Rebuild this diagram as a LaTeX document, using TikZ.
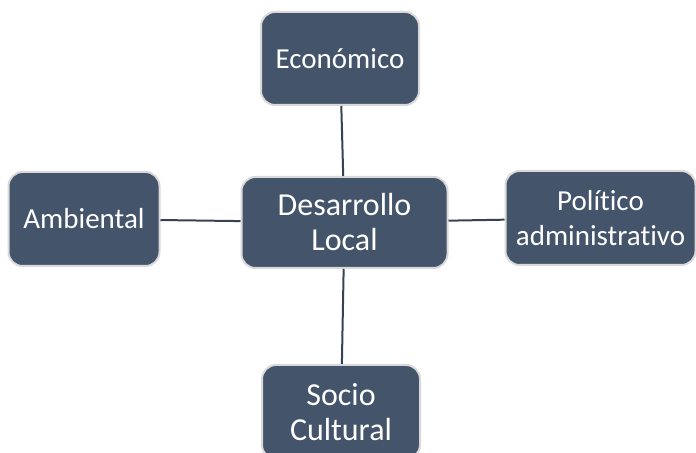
\documentclass[tikz,border=0pt]{standalone}
\usepackage{fontspec}
\setmainfont[RawFeature={-liga;-clig;-calt;-rlig}]{Carlito}

\definecolor{slate}{HTML}{44546A}
\definecolor{rim}{HTML}{D9D9D9}

\begin{document}
\begin{tikzpicture}[x=0.5pt, y=-0.5pt, area/.style={draw=rim, line width=1pt, fill=slate, rounded corners=7pt, text=white, align=center, font=\fontsize{14.5}{17.5}\selectfont}, big/.style={font=\fontsize{16}{17.5}\selectfont}, ]

\useasboundingbox (0,0) rectangle (696,453);

\node (eco) [area, minimum width=79pt, minimum height=46.5pt] at (340, 58.5) {Económico};
\node (amb) [area, minimum width=75.5pt, minimum height=47pt] at (84, 219) {Ambiental};
\node (des) [area, big, minimum width=103pt, minimum height=45.5pt] at (344.5, 222.5) {Desarrollo\\Local};
\node (pol) [area, minimum width=95pt, minimum height=47pt] at (600.5, 218) {Político\\administrativo};
\node (soc) [area, big, minimum width=79pt, minimum height=47pt] at (341, 412) {Socio\\Cultural};

\foreach \n in {eco, amb, pol, soc}
{
  \draw [slate!80!black, line width=1pt] (des) -- (\n);
}

\end{tikzpicture}
\end{document}
